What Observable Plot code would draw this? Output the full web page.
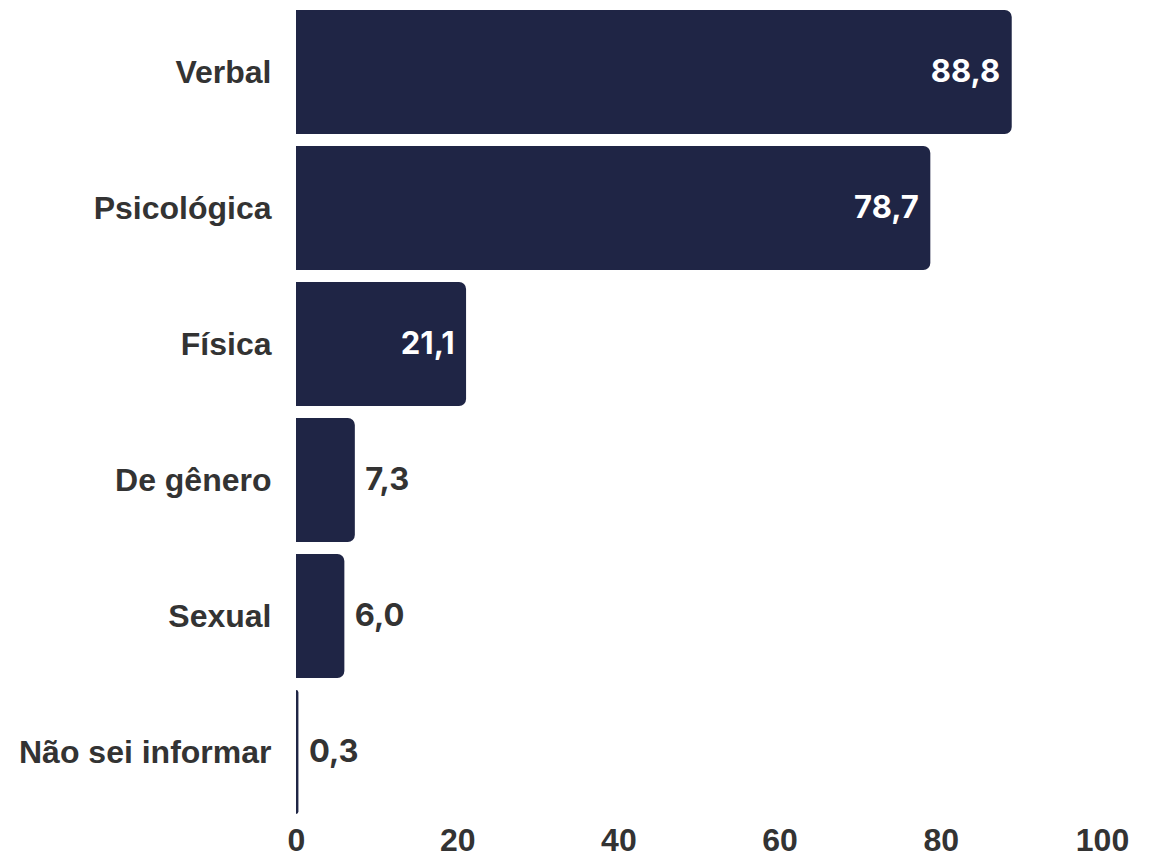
<!DOCTYPE html>
<html>
<head>
<meta charset="utf-8">
<script src="https://cdn.jsdelivr.net/npm/d3@7"></script>
<script src="https://cdn.jsdelivr.net/npm/@observablehq/plot@0.6"></script>
<style>
  html, body { margin: 0; padding: 0; background: #fff; }
  #chart { width: 1153px; height: 858px; }
</style>
</head>
<body>
<div id="chart"></div>
<script>
const categories = ["Verbal", "Psicológica", "Física", "De gênero", "Sexual", "Não sei informar"];
const values = [88.8, 78.7, 21.1, 7.3, 6.0, 0.3];
const xTicks = [0, 20, 40, 60, 80, 100];

const data = categories.map((c, i) => ({category: c, value: values[i]}));
const fmt = v => v.toFixed(1).replace(".", ",");
const inside = d => d.value > 15;

const barColor = "#1f2545";
const textColor = "#333333";

const chart = Plot.plot({
  width: 1153,
  height: 858,
  marginLeft: 296,
  marginRight: 51,
  marginTop: 3,
  marginBottom: 36,
  style: {fontFamily: "'Liberation Sans', Arial, sans-serif", background: "#fff"},
  x: {domain: [0, 100], ticks: xTicks, label: null},
  y: {domain: categories, label: null, paddingInner: 0.085, paddingOuter: 0.0425},
  marks: [
    Plot.barX(data, {x: "value", y: "category", fill: barColor, rx2y1: 7, rx2y2: 7}),
    Plot.text(data.filter(inside), {
      x: "value", y: "category", text: d => fmt(d.value),
      textAnchor: "end", dx: -12, fill: "white",
      fontSize: 31, fontWeight: 700, fontFamily: "Inter, sans-serif"
    }),
    Plot.text(data.filter(d => !inside(d)), {
      x: "value", y: "category", text: d => fmt(d.value),
      textAnchor: "start", dx: 10, fill: textColor,
      fontSize: 31, fontWeight: 700, fontFamily: "Inter, sans-serif"
    }),
    Plot.axisY({tickSize: 0, tickPadding: 25, fontSize: 32, fontWeight: 700, fill: textColor, label: null}),
    Plot.axisX({ticks: xTicks, tickSize: 0, tickPadding: 6, fontSize: 32, fontWeight: 700, fill: textColor, label: null})
  ]
});
document.getElementById("chart").appendChild(chart);
</script>
</body>
</html>
